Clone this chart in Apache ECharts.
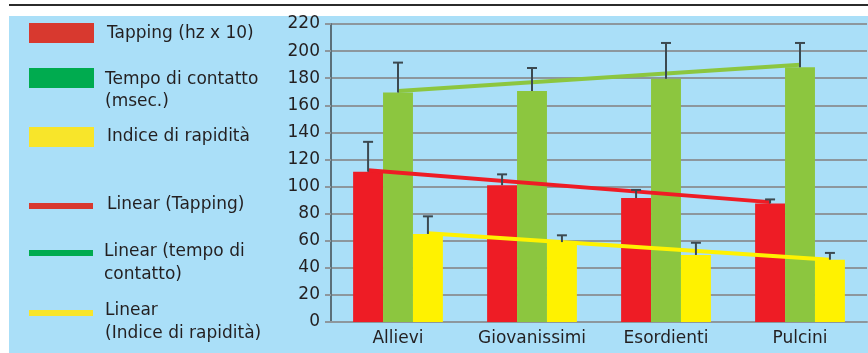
<!DOCTYPE html>
<html>
<head>
<meta charset="utf-8">
<script src="https://cdn.jsdelivr.net/npm/echarts@6/dist/echarts.min.js"></script>
<style>
  html, body { margin: 0; padding: 0; background: #fff; }
  #chart { width: 868px; height: 353px; }
</style>
</head>
<body>
<div id="chart"></div>
<script>
// categorie e valori
var categories = ['Allievi', 'Giovanissimi', 'Esordienti', 'Pulcini'];
var tapping = [111, 101, 91.5, 87.5];
var tappingErr = [133, 109, 97.5, 90.5];
var contatto = [169.5, 170.5, 179.5, 188];
var contattoErr = [191.5, 187.5, 206, 206];
var rapidita = [65, 59, 49.5, 46];
var rapiditaErr = [78, 64, 58.5, 51];
// linee di tendenza: valore al primo e all'ultimo gruppo
var trendTapping = [112, 88.5];
var trendContatto = [170.5, 190];
var trendRapidita = [65.5, 46];

var RED = '#ee1c25', GREEN = '#8cc63f', YELLOW = '#fff200';
var TEXT = '#231f20', FONT = 'DejaVu Sans';
var BAR_FRAC = 0.67 / 3; // larghezza di una barra rispetto alla categoria

var chart = echarts.init(document.getElementById('chart'));

// barre di errore (solo verso l'alto)
function errorBars(values, tops, offset) {
  return {
    type: 'custom',
    z: 4,
    data: values.map(function (v, i) { return [i, v, tops[i]]; }),
    renderItem: function (params, api) {
      var base = api.coord([api.value(0), api.value(1)]);
      var top = api.coord([api.value(0), api.value(2)]);
      var x = base[0] + offset * api.size([1, 0])[0] * BAR_FRAC;
      var st = { stroke: '#3c4950', lineWidth: 2 };
      return {
        type: 'group',
        children: [
          { type: 'line', shape: { x1: x, y1: base[1], x2: x, y2: top[1] }, style: st },
          { type: 'line', shape: { x1: x - 5, y1: top[1], x2: x + 5, y2: top[1] }, style: st }
        ]
      };
    }
  };
}

// linea di tendenza dal primo all'ultimo gruppo
function trendLine(ends, offset, color) {
  return {
    type: 'custom',
    z: 3,
    data: [[0, ends[0], categories.length - 1, ends[1]]],
    renderItem: function (params, api) {
      var p0 = api.coord([api.value(0), api.value(1)]);
      var p1 = api.coord([api.value(2), api.value(3)]);
      var dx = offset * api.size([1, 0])[0] * BAR_FRAC;
      return {
        type: 'line',
        shape: { x1: p0[0] + dx, y1: p0[1], x2: p1[0] + dx, y2: p1[1] },
        style: { stroke: color, lineWidth: 4 }
      };
    }
  };
}

function legendBox(y, color) {
  return { type: 'rect', shape: { x: 29, y: y, width: 65, height: 20 }, style: { fill: color } };
}
function legendLine(y, color) {
  return { type: 'rect', shape: { x: 29, y: y - 3, width: 64, height: 6 }, style: { fill: color } };
}
function legendText(x, y, txt) {
  return {
    type: 'text', x: x, y: y,
    style: { text: txt, fill: TEXT, font: '17px "' + FONT + '"', verticalAlign: 'middle' }
  };
}

var option = {
  animation: false,
  textStyle: { fontFamily: FONT },
  graphic: [
    { type: 'rect', z: -10, shape: { x: 9, y: 16, width: 859, height: 337 }, style: { fill: '#aadff8' } },
    { type: 'line', z: -10, shape: { x1: 9, y1: 5, x2: 868, y2: 5 }, style: { stroke: '#2b2b2b', lineWidth: 2 } },
    legendBox(23, '#d8392f'),
    legendText(107, 34, 'Tapping (hz x 10)'),
    legendBox(68, '#00ab4f'),
    legendText(105, 80, 'Tempo di contatto'),
    legendText(105, 102, '(msec.)'),
    legendBox(127, '#f8e52a'),
    legendText(107, 137, 'Indice di rapidità'),
    legendLine(206, '#d8392f'),
    legendText(107, 205, 'Linear (Tapping)'),
    legendLine(253, '#00ab4f'),
    legendText(104, 252, 'Linear (tempo di'),
    legendText(104, 275, 'contatto)'),
    legendLine(313, '#f8e52a'),
    legendText(105, 311, 'Linear'),
    legendText(105, 334, '(Indice di rapidità)')
  ],
  grid: { left: 331, right: 1, top: 24, bottom: 31 },
  xAxis: {
    type: 'category',
    data: categories,
    axisLine: { lineStyle: { color: '#8d979d', width: 2 } },
    axisTick: { length: 5, lineStyle: { color: '#8d979d', width: 2 } },
    axisLabel: { color: TEXT, fontSize: 17, margin: 8, interval: 0 }
  },
  yAxis: {
    type: 'value',
    min: 0,
    max: 220,
    interval: 20,
    axisLine: { show: true, lineStyle: { color: '#5b6f79', width: 2 } },
    axisTick: { show: true, length: 6, lineStyle: { color: '#8d979d', width: 2 } },
    axisLabel: { color: TEXT, fontSize: 17, margin: 11 },
    splitLine: { lineStyle: { color: '#8d979d', width: 2 } }
  },
  series: [
    { name: 'Tapping (hz x 10)', type: 'bar', data: tapping, barGap: '0%', barCategoryGap: '33%', itemStyle: { color: RED } },
    { name: 'Tempo di contatto (msec.)', type: 'bar', data: contatto, itemStyle: { color: GREEN } },
    { name: 'Indice di rapidità', type: 'bar', data: rapidita, itemStyle: { color: YELLOW } },
    trendLine(trendTapping, -1, RED),
    trendLine(trendContatto, 0, GREEN),
    trendLine(trendRapidita, 1, YELLOW),
    errorBars(tapping, tappingErr, -1),
    errorBars(contatto, contattoErr, 0),
    errorBars(rapidita, rapiditaErr, 1)
  ]
};

chart.setOption(option);
</script>
</body>
</html>
